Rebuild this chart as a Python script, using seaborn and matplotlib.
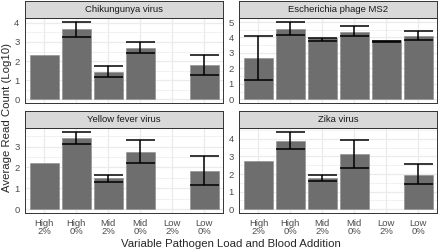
import numpy as np
import pandas as pd
import matplotlib
matplotlib.use('Agg')
import matplotlib.pyplot as plt
import seaborn as sns

# categories on the x axis (load / blood addition)
labels = ['High\n2%', 'High\n0%', 'Mid\n2%', 'Mid\n0%', 'Low\n2%', 'Low\n0%']
viruses = ['Chikungunya virus', 'Escherichia phage MS2', 'Yellow fever virus', 'Zika virus']

# mean read count (log10) per virus
chik_mean = [2.33, 3.66, 1.41, 2.68, np.nan, 1.78]
ms2_mean = [2.65, 4.55, 3.95, 4.38, 3.85, 4.10]
yfv_mean = [2.22, 3.43, 1.48, 2.74, np.nan, 1.84]
zika_mean = [2.72, 3.90, 1.78, 3.12, np.nan, 1.97]

# error bar ends
chik_lo = [np.nan, 3.28, 1.15, 2.40, np.nan, 1.30]
chik_hi = [np.nan, 4.03, 1.73, 3.02, np.nan, 2.31]
ms2_lo = [1.26, 4.15, 3.78, 4.11, 3.69, 3.85]
ms2_hi = [4.12, 4.99, 3.96, 4.72, 3.78, 4.44]
yfv_lo = [np.nan, 3.13, 1.32, 2.19, np.nan, 1.18]
yfv_hi = [np.nan, 3.72, 1.62, 3.32, np.nan, 2.56]
zika_lo = [np.nan, 3.43, 1.61, 2.34, np.nan, 1.41]
zika_hi = [np.nan, 4.42, 1.96, 3.95, np.nan, 2.58]

# y ticks per facet (free scales)
chik_ticks = [0, 1, 2, 3, 4]
ms2_ticks = [0, 1, 2, 3, 4, 5]
yfv_ticks = [0, 1, 2, 3]
zika_ticks = [0, 1, 2, 3, 4]

panels = [
    (viruses[0], chik_mean, chik_lo, chik_hi, chik_ticks),
    (viruses[1], ms2_mean, ms2_lo, ms2_hi, ms2_ticks),
    (viruses[2], yfv_mean, yfv_lo, yfv_hi, yfv_ticks),
    (viruses[3], zika_mean, zika_lo, zika_hi, zika_ticks),
]

sns.set_style('white')
plt.rcParams['font.family'] = ['Liberation Sans', 'DejaVu Sans']

W, H = 440, 252
fig = plt.figure(figsize=(W / 100, H / 100), dpi=100)

# panel boxes in pixels: (x0, x1) and (strip top, panel top, panel bottom)
cols = [(25, 223.3), (239.3, 437.3)]
rows = [(1, 18.3, 103.3), (110.7, 127.7, 213)]

for i, (name, mean, lo, hi, ticks) in enumerate(panels):
    x0, x1 = cols[i % 2]
    s0, p0, p1 = rows[i // 2]
    ax = fig.add_axes([x0 / W, 1 - p1 / H, (x1 - x0) / W, (p1 - p0) / H])
    sax = fig.add_axes([x0 / W, 1 - p0 / H, (x1 - x0) / W, (p0 - s0) / H])

    df = pd.DataFrame({'cond': labels, 'val': mean})
    sns.barplot(data=df, x='cond', y='val', order=labels, color='#6E6E6E',
                saturation=1, width=0.9, errorbar=None, edgecolor='#8A8A8A',
                linewidth=0.4, ax=ax, zorder=2)

    xs = np.arange(len(labels))
    lo_a = np.array(lo)
    hi_a = np.array(hi)
    ok = ~np.isnan(lo_a)
    ax.vlines(xs[ok], lo_a[ok], hi_a[ok], color='black', lw=1.1, zorder=3)
    ax.hlines(lo_a[ok], xs[ok] - 0.45, xs[ok] + 0.45, color='black', lw=1.1, zorder=3)
    ax.hlines(hi_a[ok], xs[ok] - 0.45, xs[ok] + 0.45, color='black', lw=1.1, zorder=3)

    top = np.nanmax(np.concatenate([np.array(mean), hi_a]))
    ax.set_ylim(-0.05 * top, top * 1.05)
    ax.set_xlim(-0.6, len(labels) - 0.4)
    ax.set_yticks(ticks)
    ax.set_yticks(np.arange(0.5, top * 1.05, 1.0), minor=True)
    ax.grid(True, which='major', color='#EBEBEB', lw=0.9, zorder=0)
    ax.grid(True, which='minor', axis='y', color='#EBEBEB', lw=0.45, zorder=0)
    ax.set_axisbelow(True)
    ax.set_xlabel('')
    ax.set_ylabel('')
    ax.tick_params(axis='both', which='major', length=2.5, width=0.6, color='#333333',
                   labelsize=6.8, labelcolor='#4D4D4D', pad=1.5)
    ax.tick_params(axis='both', which='minor', length=0)
    if i < 2:
        ax.set_xticklabels([])
    else:
        ax.set_xticks(xs)
        ax.set_xticklabels(labels, linespacing=0.95)
    for sp in ax.spines.values():
        sp.set_visible(True)
        sp.set_color('#333333')
        sp.set_linewidth(0.7)

    sax.set_facecolor('#D9D9D9')
    sax.set_xticks([])
    sax.set_yticks([])
    for sp in sax.spines.values():
        sp.set_color('#333333')
        sp.set_linewidth(0.7)
    sax.text(0.5, 0.5, name, ha='center', va='center', fontsize=6.8,
             color='#1A1A1A', transform=sax.transAxes)

fig.text(231 / W, 1 - 244 / H, 'Variable Pathogen Load and Blood Addition',
         ha='center', va='center', fontsize=8.2)
fig.text(7 / W, 1 - 117 / H, 'Average Read Count (Log10)', rotation=90,
         ha='center', va='center', fontsize=8.2)

fig.savefig('out.png', dpi=100)
